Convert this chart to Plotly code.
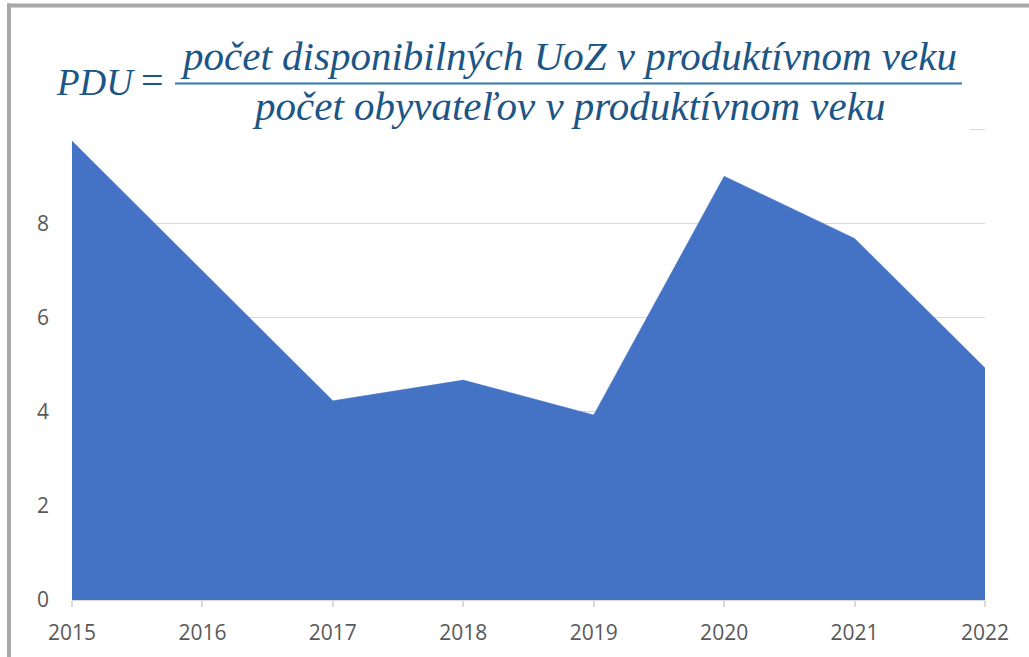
import plotly.graph_objects as go

years = [2015, 2016, 2017, 2018, 2019, 2020, 2021, 2022]
pdu = [9.75, 6.99, 4.23, 4.67, 3.93, 9.00, 7.68, 4.93]
y_ticks = [0, 2, 4, 6, 8, 10, 12]
y_ticktext = ["0", "2", "4", "6", "8", "", ""]

formula_lhs = "PDU"
formula_eq = "="
formula_num = "počet disponibilných UoZ v produktívnom veku"
formula_den = "počet obyvateľov v produktívnom veku"

W, H = 1029, 657
L, R, T, B = 72, 985, 34.5, 600


def px(X):
    return (X - L) / (R - L)


def py(Y):
    return (B - Y) / (B - T)


fig = go.Figure()
fig.add_trace(go.Scatter(
    x=years, y=pdu, mode="lines", fill="tozeroy",
    line=dict(color="#4472c4", width=0.5), fillcolor="#4472c4",
    hoverinfo="x+y", showlegend=False,
))

shapes = [
    # formula image background (covers top gridlines)
    dict(type="rect", xref="paper", yref="paper", x0=px(14), x1=px(970), y0=py(137), y1=py(14),
         fillcolor="white", line=dict(width=0), layer="above"),
    # fraction bar
    dict(type="line", xref="paper", yref="paper", x0=px(175), x1=px(962), y0=py(83), y1=py(83),
         line=dict(color="#2f78b0", width=2), layer="above"),
    # frame (left and top)
    dict(type="rect", xref="paper", yref="paper", x0=px(7), x1=px(11), y0=py(662), y1=py(3),
         fillcolor="#aaa7a7", line=dict(width=0), layer="above"),
    dict(type="rect", xref="paper", yref="paper", x0=px(7), x1=px(1035), y0=py(7), y1=py(3),
         fillcolor="#aaa7a7", line=dict(width=0), layer="above"),
]

formula_font = dict(family="Liberation Serif", style="italic", color="#1b5687")
annotations = [
    dict(text=formula_lhs, xref="paper", yref="paper", x=px(54), y=py(82), xanchor="left", yanchor="middle",
         showarrow=False, font=dict(size=37, **formula_font)),
    dict(text=formula_eq, xref="paper", yref="paper", x=px(152), y=py(80), xanchor="center", yanchor="middle",
         showarrow=False, font=dict(size=40, family="Liberation Serif", color="#1b5687")),
    dict(text=formula_num, xref="paper", yref="paper", x=px(568), y=py(56), xanchor="center", yanchor="middle",
         showarrow=False, font=dict(size=41, **formula_font)),
    dict(text=formula_den, xref="paper", yref="paper", x=px(568), y=py(106), xanchor="center", yanchor="middle",
         showarrow=False, font=dict(size=41, **formula_font)),
]

fig.update_layout(
    width=W, height=H,
    margin=dict(l=L, r=W - R, t=T, b=H - B, pad=0),
    paper_bgcolor="white", plot_bgcolor="white",
    shapes=shapes, annotations=annotations,
    font=dict(family="Open Sans", size=21, color="#595959"),
    xaxis=dict(
        range=[2015, 2022], tickvals=years, ticktext=[str(y) for y in years],
        showgrid=False, zeroline=False, showline=True, linecolor="#d9d9d9", linewidth=1,
        ticks="outside", ticklen=6, tickcolor="#d9d9d9", tickwidth=2,
        ticklabelstandoff=8,
        tickfont=dict(size=21, color="#595959"),
    ),
    yaxis=dict(
        range=[0, 12], tickvals=y_ticks, ticktext=y_ticktext,
        showgrid=True, gridcolor="#d9d9d9", gridwidth=1, zeroline=False, showline=False,
        ticks="", ticklabelstandoff=22,
        tickfont=dict(size=21, color="#595959"),
    ),
)

fig.write_html("out.html", config={"displayModeBar": False},
               post_script="document.body.style.margin='0';document.body.style.padding='0';")
